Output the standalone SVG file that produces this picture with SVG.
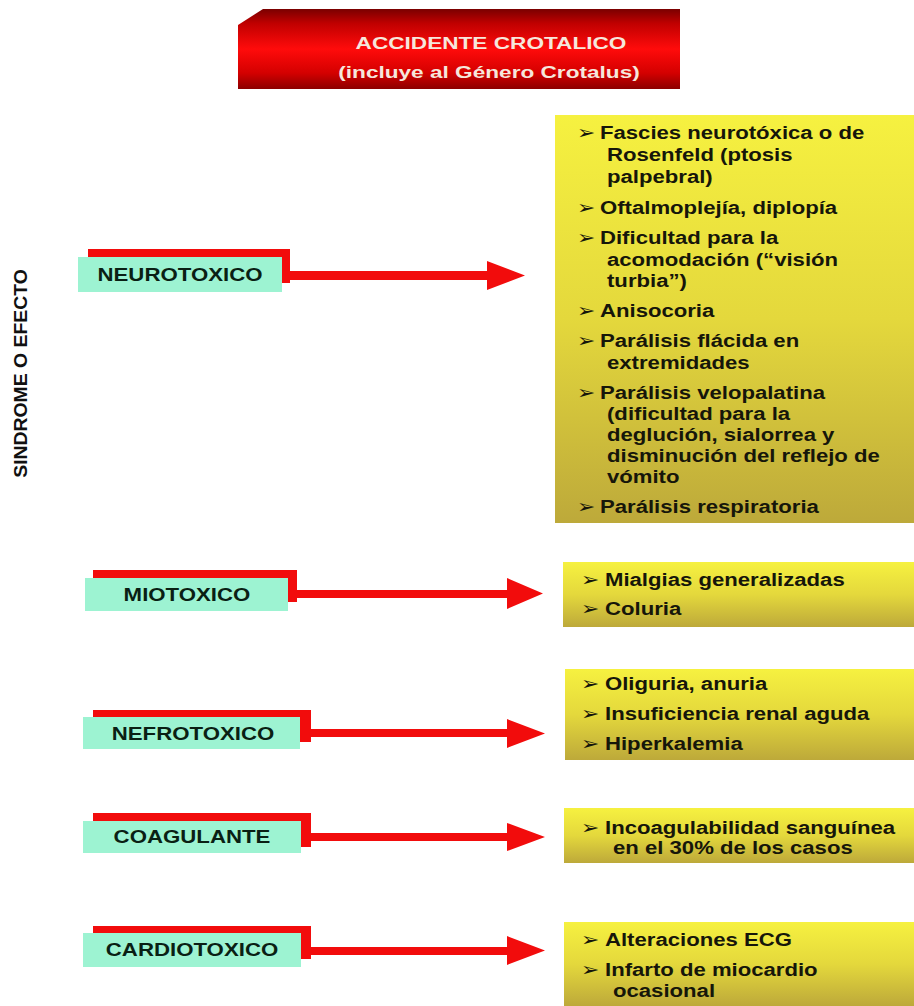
<svg xmlns="http://www.w3.org/2000/svg" width="914" height="1006" viewBox="0 0 914 1006">
<defs>
<linearGradient id="gRed" x1="0" y1="0" x2="0" y2="1">
<stop offset="0" stop-color="#7a0000"/>
<stop offset="0.18" stop-color="#c00000"/>
<stop offset="0.5" stop-color="#ff0b0b"/>
<stop offset="0.8" stop-color="#d40000"/>
<stop offset="1" stop-color="#8c0000"/>
</linearGradient>
<linearGradient id="gYel" x1="0" y1="0" x2="0" y2="1">
<stop offset="0" stop-color="#f6f140"/>
<stop offset="0.5" stop-color="#e4d83c"/>
<stop offset="1" stop-color="#bda93a"/>
</linearGradient>
<style>
.t{font-family:"Liberation Sans",Arial,sans-serif;font-weight:bold}
.title{font-size:17px;fill:#f6e7dc}
.lbl{font-size:17.5px;fill:#0a1f14}
.it{font-size:18px;fill:#16160a}
.bul{font-family:"DejaVu Sans",sans-serif;font-size:19px;fill:#16160a}
.side{font-size:19.4px;fill:#111}
.red{fill:#f20c0c}
.grn{fill:#9df3d2}
.yel{fill:url(#gYel)}
</style>
</defs>
<rect width="914" height="1006" fill="#ffffff"/>

<g id="title">
<polygon points="238,25 263,9 680,9 680,89 238,89" fill="url(#gRed)"/>
<text class="t title" text-anchor="middle" transform="translate(491,49) scale(1.33,1)">ACCIDENTE CROTALICO</text>
<text class="t title" text-anchor="middle" transform="translate(489,78) scale(1.33,1)">(incluye al Género Crotalus)</text>
</g>

<g id="side-label">
<text class="t side" text-anchor="middle" transform="translate(27,373.5) rotate(-90) scale(1,0.9)">SINDROME O EFECTO</text>
</g>

<g id="connectors">
<path class="red" d="M289 271 H487 V261 L525 275.5 L487 290 V280 H289 Z"/>
<path class="red" d="M296 590 H507 V578 L543 593.5 L507 609 V598 H296 Z"/>
<path class="red" d="M310 729 H507 V719 L545 733.5 L507 748 V737 H310 Z"/>
<path class="red" d="M310 833 H507 V823 L545 837 L507 851 V841 H310 Z"/>
<path class="red" d="M310 947 H507 V936 L545 950.5 L507 965 V955 H310 Z"/>
</g>

<g id="node-neurotoxico">
<rect class="red" x="88" y="249" width="202" height="8"/>
<rect class="red" x="282" y="249" width="8" height="34"/>
<rect class="grn" x="78" y="257" width="204" height="35"/>
<text class="t lbl" text-anchor="middle" transform="translate(180,281) scale(1.27,1)">NEUROTOXICO</text>
</g>

<g id="node-miotoxico">
<rect class="red" x="93" y="570" width="204" height="8"/>
<rect class="red" x="288" y="570" width="9" height="32"/>
<rect class="grn" x="85" y="578" width="203" height="33"/>
<text class="t lbl" text-anchor="middle" transform="translate(187,601) scale(1.27,1)">MIOTOXICO</text>
</g>

<g id="node-nefrotoxico">
<rect class="red" x="93" y="710" width="218" height="8"/>
<rect class="red" x="300" y="710" width="11" height="32"/>
<rect class="grn" x="83" y="717" width="217" height="32"/>
<text class="t lbl" text-anchor="middle" transform="translate(193,740) scale(1.27,1)">NEFROTOXICO</text>
</g>

<g id="node-coagulante">
<rect class="red" x="93" y="813" width="218" height="8"/>
<rect class="red" x="301" y="813" width="10" height="34"/>
<rect class="grn" x="83" y="821" width="218" height="32"/>
<text class="t lbl" text-anchor="middle" transform="translate(192,843) scale(1.27,1)">COAGULANTE</text>
</g>

<g id="node-cardiotoxico">
<rect class="red" x="93" y="926" width="218" height="8"/>
<rect class="red" x="301" y="926" width="10" height="33"/>
<rect class="grn" x="83" y="933" width="218" height="34"/>
<text class="t lbl" text-anchor="middle" transform="translate(192,956) scale(1.27,1)">CARDIOTOXICO</text>
</g>

<g id="box-neuro">
<rect class="yel" x="555" y="115" width="359" height="408"/>
<text class="bul" transform="translate(577,139) scale(1.15,1)">➢</text>
<text class="t it" transform="translate(600,139) scale(1.23,1)">Fascies neurotóxica o de</text>
<text class="t it" transform="translate(607,161) scale(1.23,1)">Rosenfeld (ptosis</text>
<text class="t it" transform="translate(607,183) scale(1.23,1)">palpebral)</text>
<text class="bul" transform="translate(577,214) scale(1.15,1)">➢</text>
<text class="t it" transform="translate(600,214) scale(1.23,1)">Oftalmoplejía, diplopía</text>
<text class="bul" transform="translate(577,244) scale(1.15,1)">➢</text>
<text class="t it" transform="translate(600,244) scale(1.23,1)">Dificultad para la</text>
<text class="t it" transform="translate(607,265.5) scale(1.23,1)">acomodación (“visión</text>
<text class="t it" transform="translate(607,287) scale(1.23,1)">turbia”)</text>
<text class="bul" transform="translate(577,317) scale(1.15,1)">➢</text>
<text class="t it" transform="translate(600,317) scale(1.23,1)">Anisocoria</text>
<text class="bul" transform="translate(577,347) scale(1.15,1)">➢</text>
<text class="t it" transform="translate(600,347) scale(1.23,1)">Parálisis flácida en</text>
<text class="t it" transform="translate(607,368.5) scale(1.23,1)">extremidades</text>
<text class="bul" transform="translate(577,399) scale(1.15,1)">➢</text>
<text class="t it" transform="translate(600,399) scale(1.23,1)">Parálisis velopalatina</text>
<text class="t it" transform="translate(607,420) scale(1.23,1)">(dificultad para la</text>
<text class="t it" transform="translate(607,441) scale(1.23,1)">deglución, sialorrea y</text>
<text class="t it" transform="translate(607,462) scale(1.23,1)">disminución del reflejo de</text>
<text class="t it" transform="translate(607,483) scale(1.23,1)">vómito</text>
<text class="bul" transform="translate(577,513) scale(1.15,1)">➢</text>
<text class="t it" transform="translate(600,513) scale(1.23,1)">Parálisis respiratoria</text>
</g>

<g id="box-mio">
<rect class="yel" x="563" y="562" width="351" height="65"/>
<text class="bul" transform="translate(581,586) scale(1.15,1)">➢</text>
<text class="t it" transform="translate(605,586) scale(1.23,1)">Mialgias generalizadas</text>
<text class="bul" transform="translate(581,615) scale(1.15,1)">➢</text>
<text class="t it" transform="translate(605,615) scale(1.23,1)">Coluria</text>
</g>

<g id="box-nefro">
<rect class="yel" x="565" y="669" width="349" height="91"/>
<text class="bul" transform="translate(581,690) scale(1.15,1)">➢</text>
<text class="t it" transform="translate(605,690) scale(1.23,1)">Oliguria, anuria</text>
<text class="bul" transform="translate(581,720) scale(1.15,1)">➢</text>
<text class="t it" transform="translate(605,720) scale(1.23,1)">Insuficiencia renal aguda</text>
<text class="bul" transform="translate(581,750) scale(1.15,1)">➢</text>
<text class="t it" transform="translate(605,750) scale(1.23,1)">Hiperkalemia</text>
</g>

<g id="box-coag">
<rect class="yel" x="564" y="808" width="350" height="55"/>
<text class="bul" transform="translate(581,834) scale(1.15,1)">➢</text>
<text class="t it" transform="translate(605,834) scale(1.23,1)">Incoagulabilidad sanguínea</text>
<text class="t it" transform="translate(613,854) scale(1.23,1)">en el 30% de los casos</text>
</g>

<g id="box-cardio">
<rect class="yel" x="564" y="922" width="350" height="84"/>
<text class="bul" transform="translate(581,946) scale(1.15,1)">➢</text>
<text class="t it" transform="translate(605,946) scale(1.23,1)">Alteraciones ECG</text>
<text class="bul" transform="translate(581,976) scale(1.15,1)">➢</text>
<text class="t it" transform="translate(605,976) scale(1.23,1)">Infarto de miocardio</text>
<text class="t it" transform="translate(613,997) scale(1.23,1)">ocasional</text>
</g>
</svg>
